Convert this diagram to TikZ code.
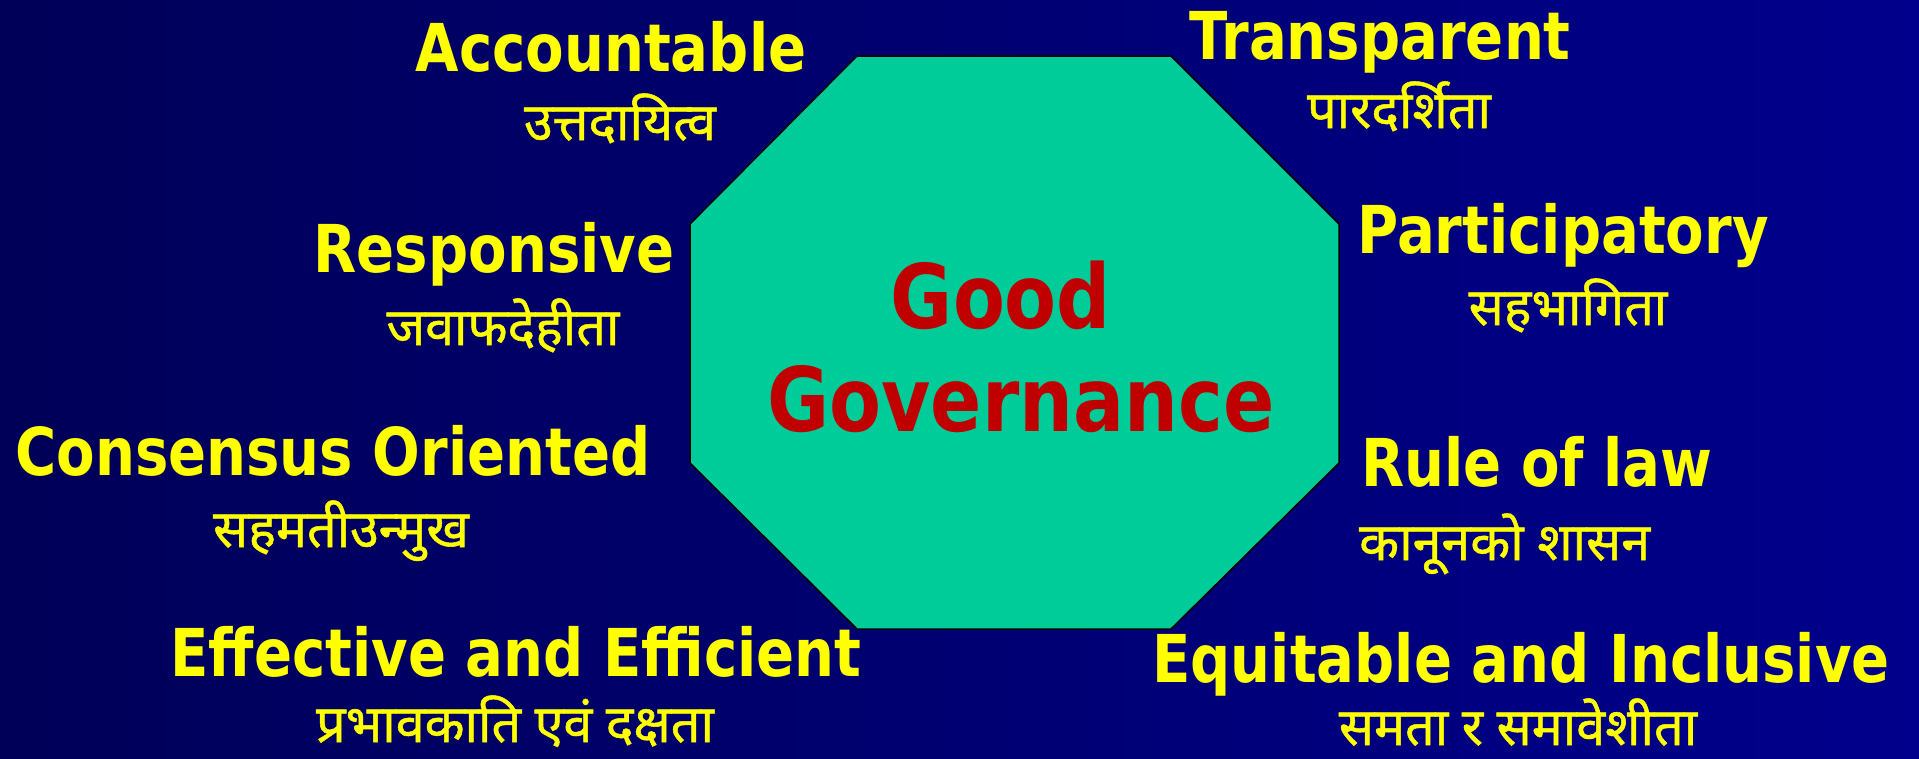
\documentclass[tikz,border=0pt]{standalone}
\usepackage{fontspec}
\setmainfont{DejaVu Sans}
\newfontfamily\engfont[FakeStretch=0.85]{DejaVu Sans}
\newfontfamily\devfont[Script=Devanagari,FakeBold=1]{Noto Sans}
\definecolor{ggyellow}{HTML}{FFFF00}
\definecolor{ggred}{HTML}{C00000}
\definecolor{gggreen}{HTML}{00CC99}
\definecolor{bgleft}{HTML}{000058}
\definecolor{bgright}{HTML}{00008C}
\tikzset{
  eng/.style={text=ggyellow, inner sep=0pt, anchor=base,
    font=\engfont\bfseries\fontsize{66}{70}\selectfont},
  dev/.style={text=ggyellow, inner sep=0pt, anchor=base,
    font=\devfont\fontsize{52}{56}\selectfont},
  title/.style={text=ggred, inner sep=0pt, anchor=base,
    font=\engfont\bfseries\fontsize{89}{96}\selectfont},
}

\begin{document}
\begin{tikzpicture}[x=1pt,y=-1pt]
  % background
  \shade[left color=bgleft, right color=bgright] (0,0) rectangle (1919,758);
  \useasboundingbox (0,0) rectangle (1919,758);

  % octagon
  \draw[fill=gggreen, line width=1.5pt]
    (857,56) -- (1171,56) -- (1339,224) -- (1339,463)
    -- (1171,629) -- (857,629) -- (690,463) -- (690,224) -- cycle;
  \node[title] (good) at (1001,328) {Good};
  \node[title] (gov) at (1021,431) {Governance};

  % labels
  \node[eng] (acc) at (611,71) {Accountable};
  \node[dev] (accdev) at (620,140) {उत्तदायित्व};
  \node[eng] (tra) at (1380,59) {Transparent};
  \node[dev] (tradev) at (1399,128) {पारदर्शिता};
  \node[eng] (res) at (494,272) {Responsive};
  \node[dev] (resdev) at (503,345) {जवाफदेहीता};
  \node[eng] (par) at (1563,253) {Participatory};
  \node[dev] (pardev) at (1568,325) {सहभागिता};
  \node[eng] (con) at (333,475) {Consensus Oriented};
  \node[dev] (condev) at (341,547) {सहमतीउन्मुख};
  \node[eng, anchor=base west] (rule) at (1361,486) {Rule of law};
  \node[dev, anchor=base west] (ruledev) at (1359,560) {कानूनको शासन};
  \node[eng] (eff) at (516,676) {Effective and Efficient};
  \node[dev] (effdev) at (515,742) {प्रभावकाति एवं दक्षता};
  \node[eng] (equ) at (1521,682) {Equitable and Inclusive};
  \node[dev] (equdev) at (1518,745) {समता र समावेशीता};
\end{tikzpicture}
\end{document}
